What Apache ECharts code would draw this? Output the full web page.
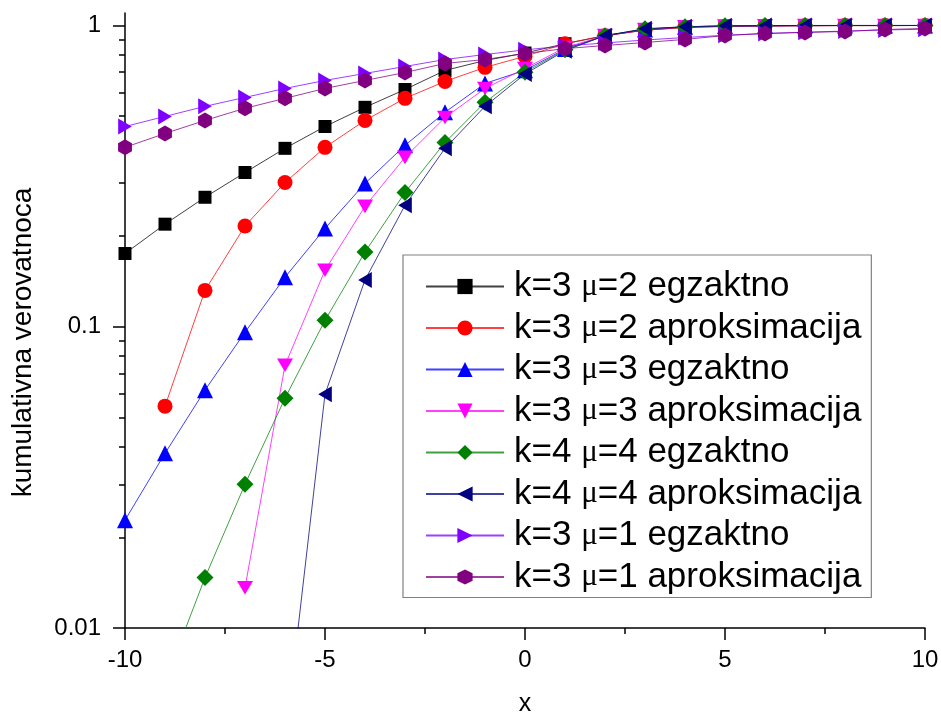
<!DOCTYPE html>
<html>
<head>
<meta charset="utf-8">
<script src="https://cdn.jsdelivr.net/npm/echarts@6/dist/echarts.min.js"></script>
<style>
  html, body { margin: 0; padding: 0; background: #fff; }
  #chart { width: 941px; height: 717px; }
</style>
</head>
<body>
<div id="chart"></div>
<script>
// x values shared by every curve
const xs = [-10, -9, -8, -7, -6, -5, -4, -3, -2, -1, 0, 1, 2, 3, 4, 5, 6, 7, 8, 9, 10]

// values (null = not drawn)
const k3mu2Exact  = [0.175, 0.219, 0.269, 0.325, 0.391, 0.462, 0.535, 0.613, 0.709, 0.765, 0.81, 0.87, 0.925, 0.965, 0.985, 0.993, 0.996, 0.998, 0.999, 0.999, 1.0]
const k3mu2Approx = [null, 0.0545, 0.132, 0.216, 0.301, 0.394, 0.484, 0.573, 0.652, 0.726, 0.79, 0.87, 0.925, 0.965, 0.985, 0.993, 0.996, 0.998, 0.999, 0.999, 1.0]
const k3mu3Exact  = [0.0228, 0.038, 0.0616, 0.0959, 0.146, 0.212, 0.299, 0.400, 0.515, 0.642, 0.71, 0.835, 0.925, 0.97, 0.99, 0.996, 0.998, 0.999, 1, 1, 1]
const k3mu3Approx = [null, null, null, 0.0136, 0.0745, 0.154, 0.251, 0.365, 0.495, 0.618, 0.72, 0.845, 0.925, 0.97, 0.99, 0.996, 0.998, 0.999, 1, 1, 1]
const k4mu4Exact  = [null, 0.0066, 0.0147, 0.0300, 0.0579, 0.105, 0.177, 0.279, 0.409, 0.556, 0.70, 0.83, 0.925, 0.975, 0.99, 0.997, 0.999, 1, 1, 1, 1]
const k4mu4Approx = [null, null, null, null, 0.0042, 0.0597, 0.143, 0.253, 0.391, 0.539, 0.69, 0.825, 0.925, 0.975, 0.99, 0.997, 0.999, 1, 1, 1, 1]
const k3mu1Exact  = [0.462, 0.499, 0.539, 0.577, 0.618, 0.657, 0.693, 0.731, 0.771, 0.801, 0.83, 0.855, 0.875, 0.895, 0.912, 0.928, 0.94, 0.95, 0.958, 0.966, 0.972]
const k3mu1Approx = [0.394, 0.438, 0.484, 0.531, 0.573, 0.618, 0.657, 0.698, 0.748, 0.771, 0.807, 0.838, 0.858, 0.878, 0.899, 0.926, 0.941, 0.948, 0.955, 0.97, 0.977]

const seriesNames = [
  'k=3 μ=2 egzaktno', 'k=3 μ=2 aproksimacija',
  'k=3 μ=3 egzaktno', 'k=3 μ=3 aproksimacija',
  'k=4 μ=4 egzaktno', 'k=4 μ=4 aproksimacija',
  'k=3 μ=1 egzaktno', 'k=3 μ=1 aproksimacija'
]
const seriesValues = [k3mu2Exact, k3mu2Approx, k3mu3Exact, k3mu3Approx, k4mu4Exact, k4mu4Approx, k3mu1Exact, k3mu1Approx]

// axis ticks
const yMajorTicks = [0.01, 0.1, 1]
const yMinorTicks = [0.02, 0.03, 0.04, 0.05, 0.06, 0.07, 0.08, 0.09, 0.2, 0.3, 0.4, 0.5, 0.6, 0.7, 0.8, 0.9]

const colors = ['#000000', '#ff0000', '#0000ff', '#ff00ff', '#008000', '#000080', '#8000ff', '#800080']
const symbols = [
  'rect', 'circle', 'triangle',
  'path://M-10,0 L10,0 L0,17 Z',
  'diamond',
  'path://M0,0 L17,-10 L17,10 Z',
  'path://M0,-10 L17,0 L0,10 Z',
  'path://M0,-10 L8.66,-5 L8.66,5 L0,10 L-8.66,5 L-8.66,-5 Z'
]
const sizes = [13, 15, 16, 16, 17, 16, 16, 16]

const font = 'Liberation Sans, Arial, sans-serif'

const chart = echarts.init(document.getElementById('chart'))

const series = seriesValues.map((vals, i) => ({
  name: seriesNames[i],
  type: 'line',
  yAxisIndex: 0,
  data: xs.map((x, j) => [x, vals[j]]),
  symbol: symbols[i],
  symbolSize: sizes[i],
  symbolKeepAspect: true,
  showSymbol: true,
  connectNulls: false,
  clip: true,
  color: colors[i],
  itemStyle: { color: colors[i], opacity: 1 },
  lineStyle: { color: colors[i], width: 1, opacity: 0.75 },
  emphasis: { disabled: true },
  animation: false
}))

const option = {
  animation: false,
  backgroundColor: '#ffffff',
  grid: { left: 125, right: 16, top: 13, bottom: 89, containLabel: false, outerBoundsMode: 'none' },
  legend: {
    data: seriesNames,
    orient: 'vertical',
    left: 403,
    top: 255,
    padding: [14, 10, 3, 22],
    itemGap: 6.5,
    itemWidth: 78,
    itemHeight: 19,
    borderColor: '#808080',
    borderWidth: 1.2,
    selectedMode: false,
    textStyle: {
      fontFamily: font,
      fontSize: 35,
      color: '#000',
      padding: [0, 0, 0, 5],
      rich: {
        mu: { fontFamily: 'Liberation Serif, serif', fontSize: 31, color: '#000' }
      }
    },
    formatter: name => name.replace('μ', '{mu|μ}')
  },
  xAxis: {
    type: 'value',
    min: -10,
    max: 10,
    interval: 5,
    name: 'x',
    nameLocation: 'middle',
    nameGap: 64,
    nameTextStyle: { fontFamily: font, fontSize: 25, color: '#000' },
    axisLine: { show: true, lineStyle: { color: '#000', width: 1.5 } },
    axisTick: { show: true, length: 12, lineStyle: { color: '#000', width: 1.5 } },
    minorTick: { show: true, splitNumber: 2, length: 6, lineStyle: { color: '#000', width: 1.5 } },
    splitLine: { show: false },
    axisLabel: { fontFamily: font, fontSize: 24, color: '#000', margin: 20 }
  },
  yAxis: [
    {
      type: 'log',
      logBase: 10,
      min: 0.01,
      max: 1.1,
      position: 'left',
      name: 'kumulativna verovatnoca',
      nameLocation: 'middle',
      nameGap: 88,
      nameTextStyle: { fontFamily: font, fontSize: 28, color: '#000', padding: [0, 44, 0, 0] },
      axisLine: { show: true, onZero: false, lineStyle: { color: '#000', width: 1.5 } },
      axisTick: { show: true, length: 12, customValues: yMajorTicks, lineStyle: { color: '#000', width: 1.5 } },
      splitLine: { show: false },
      axisLabel: {
        fontFamily: font, fontSize: 24, color: '#000', margin: 24,
        customValues: yMajorTicks,
        formatter: v => String(+v.toPrecision(3))
      }
    },
    {
      // second copy of the axis only for the short minor ticks
      type: 'log',
      logBase: 10,
      min: 0.01,
      max: 1.1,
      position: 'left',
      offset: 0,
      axisLine: { show: false, onZero: false },
      axisTick: { show: true, length: 6, customValues: yMinorTicks, lineStyle: { color: '#000', width: 1.5 } },
      axisLabel: { show: false },
      splitLine: { show: false }
    }
  ],
  series: series
}

chart.setOption(option)
</script>
</body>
</html>
